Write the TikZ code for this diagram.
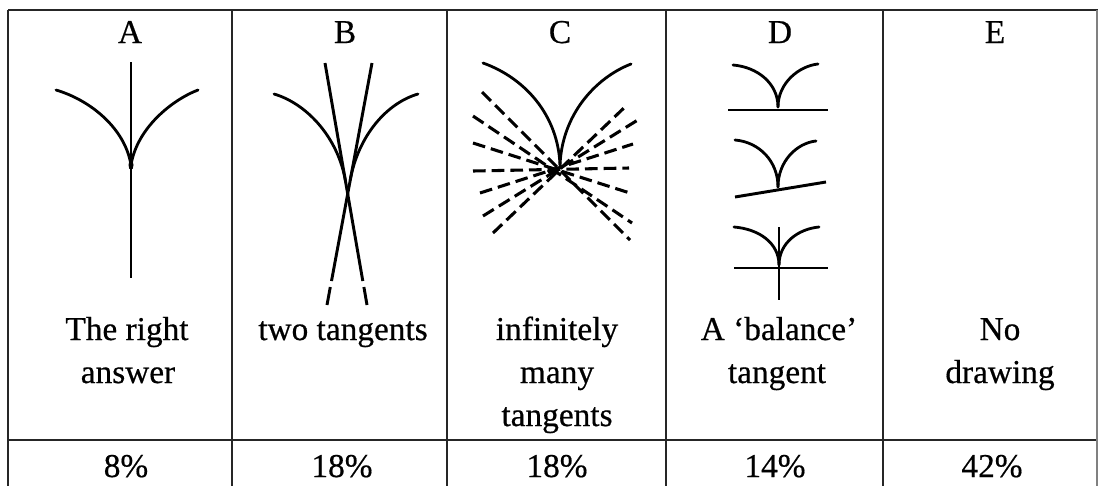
\documentclass[tikz,border=0pt]{standalone}
\usepackage{fontspec}
\setmainfont{Liberation Serif}
\newfontfamily\scanfont[FakeBold=0.5]{Liberation Serif}
\begin{document}
\begin{tikzpicture}[x=0.75pt,y=-0.75pt,
  grid/.style={line width=2.1pt,black!85},
  curve/.style={line width=2.1pt,line cap=round},
  tline/.style={line width=2.2pt},
  dline/.style={line width=2.3pt,dash pattern=on 9.5pt off 4.5pt},
  lbl/.style={anchor=base,inner sep=0pt,font=\scanfont\fontsize{25}{29}\selectfont}]
\useasboundingbox (0,0) rectangle (1098,486);
% table
\draw[grid] (8,10) -- (1098,10);
\draw[grid] (8,440) -- (1098,440);
\draw[grid] (8,10) -- (8,486);
\draw[grid] (232,10) -- (232,486);
\draw[grid] (447,10) -- (447,486);
\draw[grid] (666,10) -- (666,486);
\draw[grid] (883,10) -- (883,486);
\draw[line width=1pt,black!50] (1097,10) -- (1097,486);
% headers
\node[lbl] (hA) at (130,43) {A};
\node[lbl] (hB) at (345,43) {B};
\node[lbl] (hC) at (560,43) {C};
\node[lbl] (hD) at (780,43) {D};
\node[lbl] (hE) at (995,43) {E};
% captions
\node[lbl] (tA1) at (127,340) {The right};
\node[lbl] (tA2) at (128,383) {answer};
\node[lbl] (tB1) at (343,340) {two tangents};
\node[lbl] (tC1) at (557,340) {infinitely};
\node[lbl] (tC2) at (557,383) {many};
\node[lbl] (tC3) at (557,426) {tangents};
\node[lbl] (tD1) at (779,340) {A ‘balance’};
\node[lbl] (tD2) at (777,383) {tangent};
\node[lbl] (tE1) at (1000,340) {No};
\node[lbl] (tE2) at (1000,383) {drawing};
% percentages
\node[lbl] (pA) at (126,477) {8\%};
\node[lbl] (pB) at (342,477) {18\%};
\node[lbl] (pC) at (557,477) {18\%};
\node[lbl] (pD) at (775,477) {14\%};
\node[lbl] (pE) at (992,477) {42\%};
% figure A
\draw[tline] (131,62) -- (131,278);
\draw[curve] (56,90) .. controls (90,100) and (125,128) .. (131,165);
\draw[curve] (198,90) .. controls (172,100) and (137,128) .. (131,165);
\fill (131,165) ellipse (2.5 and 5);
% figure B
\draw[tline] (325,63) -- (362.8,281);
\draw[tline] (363.9,287) -- (367,305);
\draw[tline] (372,63) -- (331.5,281);
\draw[tline] (330.3,287) -- (327,305);
\draw[curve] (274,94) .. controls (305,103) and (337,135) .. (345.3,180);
\draw[curve] (418,94) .. controls (387,103) and (358.6,135) .. (350.2,180);
% figure C
\draw[curve] (483,63) .. controls (525,78) and (558,115) .. (560,165);
\draw[curve] (631,64) .. controls (595,78) and (562,115) .. (560,165);
\draw[dline] (482,92) -- (630,240);
\draw[dline] (473,116) -- (632,223);
\draw[dline] (473,143) -- (633,194);
\draw[dline] (473,171) -- (629,168);
\draw[dline] (480,193) -- (633,144);
\draw[dline] (483,216) -- (641,118);
\draw[dline] (493,233) -- (626,106);
\fill (553,171) ellipse (6 and 3.5);
% figure D
\draw[curve] (733,65) .. controls (757,67) and (778,83) .. (778,107);
\draw[curve] (818,64) .. controls (799,66) and (778,83) .. (778,107);
\draw[tline] (728,110) -- (828,110);
\draw[curve] (735,140) .. controls (759,142) and (778,161) .. (778,187);
\draw[curve] (816,141) .. controls (797,143) and (778,161) .. (778,187);
\draw[tline] (735,197) -- (826,182);
\draw[curve] (734,227) .. controls (759,229) and (779,243) .. (779,265);
\draw[curve] (819,227) .. controls (798,229) and (779,243) .. (779,265);
\draw[tline] (779,227) -- (779,300);
\draw[tline] (734,268) -- (828,268);
\end{tikzpicture}
\end{document}
